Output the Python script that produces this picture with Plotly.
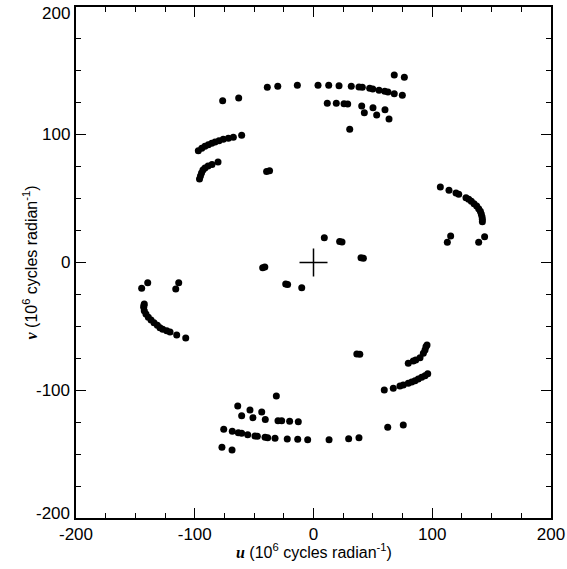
import plotly.graph_objects as go

# uv-coverage points (10^6 cycles / radian)
u_pos = [68.0, 76.5, -38.9, -30.1, -13.6, 3.8, 12.8, 21.5, 31.8, 38.3, 41.1, 47.3, 49.9, 55.2, 60.0, 62.7, 68.0, 74.8,
         -76.5, -63.0,
         11.6, 19.2, 25.7, 28.8, 40.6, 50.1, 60.2, 42.8, 53.2, 63.6, 30.5,
         -97.0, -94.1, -91.4, -88.6, -85.7, -82.9, -79.6, -76.0, -71.7, -67.5, -60.5,
         -96.0, -95.2, -94.3, -93.1, -91.4, -88.8, -85.5, -80.4,
         -39.5, -37.0,
         106.8, 114.1, 120.0, 122.3, 128.4, 130.7, 132.9, 135.2, 137.4, 139.1, 140.5, 141.3, 141.9, 142.2, 142.2,
         115.5, 112.7, 144.1, 139.1,
         9.1, 22.0, 24.0, 40.0, 42.0]
v_pos = [146.8, 145.0, 137.1, 137.9, 138.7, 138.7, 138.7, 138.4, 137.9, 137.4, 137.1, 136.4, 135.8, 134.8, 134.0, 133.5, 132.1, 130.9,
         126.7, 128.8,
         124.6, 124.6, 124.3, 124.1, 122.5, 121.2, 119.6, 117.3, 115.5, 112.3, 104.3,
         87.5, 89.4, 91.0, 92.2, 93.3, 94.3, 95.3, 96.4, 97.2, 98.0, 99.6,
         65.4, 67.7, 70.1, 72.4, 74.0, 75.5, 76.7, 78.7,
         71.3, 71.8,
         59.1, 56.5, 54.4, 53.4, 50.7, 49.5, 47.9, 46.0, 44.2, 42.1, 40.1, 38.0, 35.9, 33.8, 31.9,
         20.7, 15.8, 20.2, 15.8,
         19.4, 16.5, 16.0, 3.8, 3.3]

u_neg = [-77.1, -68.6, -75.6, -68.4, -63.3, -60.5, -55.4, -49.3, -47.3, -40.8, -38.6, -32.4, -22.1, -13.3, -4.9, 13.1, 29.6, 38.3,
         62.5, 75.6,
         -12.8, -20.1, -26.8, -29.9, -40.6, -51.0, -60.5, -43.6, -53.5, -63.8, -31.3,
         59.6, 67.2, 72.8, 75.6, 79.8, 82.7, 85.5, 88.2, 91.1, 93.9, 96.2,
         79.8, 84.0, 86.1, 89.7, 92.5, 93.9, 94.7, 95.6,
         36.5, 39.0,
         -107.6, -115.2, -120.8, -123.6, -127.0, -129.3, -131.5, -134.3, -136.8, -139.1, -141.1, -142.5, -143.0, -142.8, -142.5,
         -113.5, -116.0, -139.6, -144.7,
         -9.9, -23.4, -21.8, -42.8, -41.0]
v_neg = [-144.7, -146.8, -130.6, -132.1, -133.2, -133.7, -134.8, -135.8, -136.1, -136.8, -137.1, -137.6, -138.2, -138.4, -138.7, -138.7, -137.9, -137.1,
         -129.0, -127.2,
         -124.6, -124.3, -123.8, -123.8, -122.8, -121.5, -119.9, -117.0, -115.5, -112.3, -104.5,
         -99.8, -98.5, -96.7, -95.9, -94.6, -93.5, -92.5, -91.2, -89.9, -88.6, -87.1,
         -78.9, -77.2, -76.3, -74.5, -71.1, -68.5, -65.9, -64.5,
         -71.6, -71.8,
         -59.1, -56.8, -54.4, -53.4, -52.2, -51.0, -49.2, -47.1, -45.0, -42.9, -40.3, -37.7, -35.1, -33.6, -32.5,
         -15.8, -20.7, -15.8, -20.2,
         -19.7, -16.8, -17.2, -4.1, -3.6]

origin_u = [0]
origin_v = [0]

tick_vals = [-200, -100, 0, 100, 200]
tick_text = ["-200", "-100", "0", "100", "200"]

x_title = "<span style='font-family:Liberation Serif'><b><i>u</i></b></span> (10<sup>6</sup> cycles radian<sup>-1</sup>)"
y_title = "<span style='font-family:Liberation Serif'><b><i>v</i></b></span> (10<sup>6</sup> cycles radian<sup>-1</sup>)"

FONT = "Liberation Sans, Arial, sans-serif"

fig = go.Figure()
fig.add_trace(go.Scatter(x=u_pos + u_neg, y=v_pos + v_neg, mode="markers",
                         marker=dict(size=7, color="black"), showlegend=False))
fig.add_trace(go.Scatter(x=origin_u, y=origin_v, mode="markers",
                         marker=dict(symbol="cross-thin", size=20, line=dict(width=1.5, color="black")),
                         showlegend=False))

axis_common = dict(
    showgrid=False, zeroline=False, showline=True, linecolor="black", linewidth=1.5,
    mirror="ticks", ticks="inside", ticklen=10, tickwidth=1, tickcolor="black",
    minor=dict(dtick=25, ticklen=5, ticks="inside", tickcolor="black", tickwidth=1),
    tickfont=dict(family=FONT, size=17, color="black"),
    tickvals=tick_vals, ticktext=tick_text, ticklabeloverflow="allow",
    automargin=False,
)

# y tick labels as annotations (ends nudged inward like the reference)
y_label_annots = []
for val, txt in zip(tick_vals, tick_text):
    shift = 0
    if val == max(tick_vals):
        shift = -6
    elif val == min(tick_vals):
        shift = 5
    y_label_annots.append(dict(text=txt, xref="paper", yref="y", x=0, y=val,
                               xanchor="right", yanchor="middle", xshift=-4, yshift=shift,
                               showarrow=False, font=dict(family=FONT, size=17, color="black")))

fig.update_layout(
    width=567, height=569,
    margin=dict(l=76, r=16, t=7, b=51),
    plot_bgcolor="white", paper_bgcolor="white",
    xaxis=dict(range=[-200, 200], **axis_common),
    yaxis=dict(range=[-200, 200], showticklabels=False, **axis_common),
    annotations=y_label_annots + [
        dict(text=y_title, textangle=-90, xref="paper", yref="paper",
             x=0, y=0.5, xanchor="center", yanchor="middle", xshift=-46,
             showarrow=False, font=dict(family=FONT, size=16, color="black")),
        dict(text=x_title, xref="paper", yref="paper",
             x=0.5, y=0, xanchor="center", yanchor="middle", yshift=-33,
             showarrow=False, font=dict(family=FONT, size=16, color="black")),
    ],
)

fig.write_html("out.html")
